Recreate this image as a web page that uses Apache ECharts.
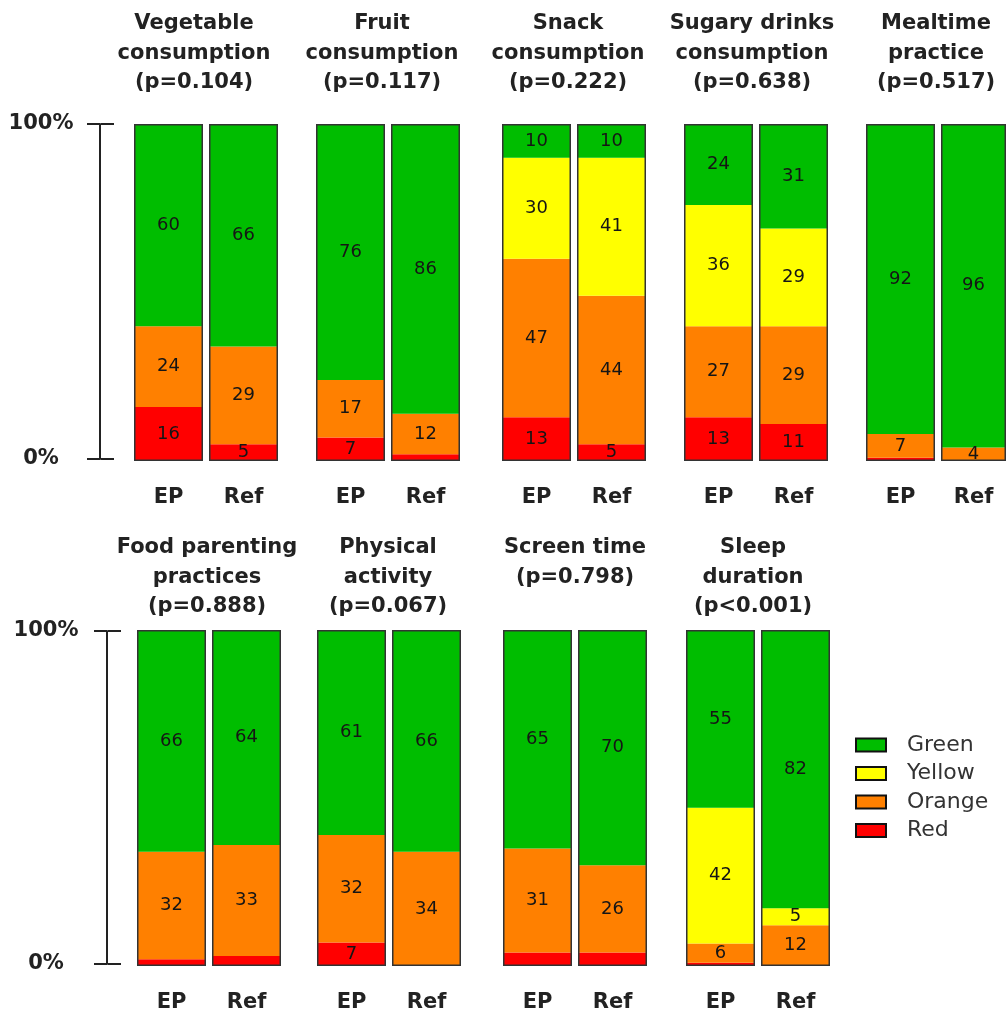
<!DOCTYPE html>
<html>
<head>
<meta charset="utf-8">
<script src="https://cdn.jsdelivr.net/npm/echarts@6/dist/echarts.min.js"></script>
<style>
  html, body { margin: 0; padding: 0; background: #ffffff; }
  #chart { width: 1006px; height: 1017px; }
</style>
</head>
<body>
<div id="chart"></div>
<script>
// Outcome panels (title lines, p-values)
const outcomes = [
  'Vegetable\nconsumption\n(p=0.104)',
  'Fruit\nconsumption\n(p=0.117)',
  'Snack\nconsumption\n(p=0.222)',
  'Sugary drinks\nconsumption\n(p=0.638)',
  'Mealtime\npractice\n(p=0.517)',
  'Food parenting\npractices\n(p=0.888)',
  'Physical\nactivity\n(p=0.067)',
  'Screen time\n(p=0.798)',
  'Sleep\nduration\n(p<0.001)'
];
const groups = ['EP', 'Ref'];
const levels = ['Green', 'Yellow', 'Orange', 'Red'];

// Percent of children per colour category, [EP, Ref] for each outcome
const green  = [[60, 66], [76, 86], [10, 10], [24, 31], [92, 96], [66, 64], [61, 66], [65, 70], [55, 82]];
const yellow = [[0, 0],   [0, 0],   [30, 41], [36, 29], [0, 0],   [0, 0],   [0, 0],   [0, 0],   [42, 5]];
const orange = [[24, 29], [17, 12], [47, 44], [27, 29], [7, 4],   [32, 33], [32, 34], [31, 26], [6, 12]];
const red    = [[16, 5],  [7, 2],   [13, 5],  [13, 11], [1, 0],   [2, 3],   [7, 0],   [4, 4],   [1, 0]];
// Whether the red segment carries a printed value
const redLabelled = [[true, true], [true, false], [true, true], [true, true], [false, false],
                     [false, false], [true, false], [false, false], [false, false]];
const scaleTicks = [0, 100];

const colours = { Green: '#00bd00', Yellow: '#ffff00', Orange: '#ff8000', Red: '#ff0000' };
const valuesOf = { Green: green, Yellow: yellow, Orange: orange, Red: red };

// Layout of the two rows of panels
const rows = [
  { top: 124, height: 337, panelLeft: [134, 316, 502, 684, 866], titleX: [194, 382, 568, 752, 936], titleTop: 9,
    axisX: 100, axisTop: 124, axisHeight: 335, labelMargin: 59 },
  { top: 630, height: 336, panelLeft: [137, 317, 503, 686], titleX: [207, 388, 575, 753], titleTop: 533,
    axisX: 107, axisTop: 631, axisHeight: 333, labelMargin: 61 }
];
const barW = 69, barStep = 75;

const FONT = 'DejaVu Sans';
const grid = [], xAxis = [], yAxis = [], series = [], title = [];

let panel = 0;
rows.forEach(function (row) {
  row.panelLeft.forEach(function (left, k) {
    const p = panel;
    title.push({
      text: outcomes[p],
      left: row.titleX[k],
      top: row.titleTop,
      textAlign: 'center',
      padding: 0,
      textStyle: { fontFamily: FONT, fontWeight: 'bold', fontSize: 21, lineHeight: 29.5, color: '#222' }
    });
    groups.forEach(function (g, gi) {
      const gIdx = grid.length, xIdx = xAxis.length, yIdx = yAxis.length;
      const total = green[p][gi] + yellow[p][gi] + orange[p][gi] + red[p][gi];
      grid.push({ left: left + gi * barStep, top: row.top, width: barW, height: row.height });
      xAxis.push({
        type: 'category', gridIndex: gIdx, data: [g],
        axisLine: { show: false }, axisTick: { show: false },
        axisLabel: { margin: 26, fontFamily: FONT, fontWeight: 'bold', fontSize: 21, color: '#222' }
      });
      yAxis.push({ type: 'value', gridIndex: gIdx, min: 0, max: total, show: false });
      ['Red', 'Orange', 'Yellow', 'Green'].forEach(function (lev) {
        const v = valuesOf[lev][p][gi];
        const showLabel = v > 0 && (lev !== 'Red' || redLabelled[p][gi]);
        series.push({
          name: lev, type: 'bar', xAxisIndex: xIdx, yAxisIndex: yIdx,
          stack: 'bar' + gIdx, barWidth: '100%', barGap: '-100%',
          data: [v],
          itemStyle: { color: colours[lev] },
          label: { show: showLabel, position: 'inside', formatter: '{c}',
                   fontFamily: FONT, fontSize: 18, color: '#151515' }
        });
      });
      // outline around the whole stacked bar
      series.push({
        name: 'outline', type: 'bar', xAxisIndex: xIdx, yAxisIndex: yIdx,
        barWidth: '100%', barGap: '-100%', z: 5, silent: true,
        data: [total],
        itemStyle: { color: 'rgba(0,0,0,0)', borderColor: '#333', borderWidth: 1.5 },
        label: { show: false }
      });
    });
    panel++;
  });

  // 0%-100% scale bar at the left of the row
  const sIdx = grid.length;
  grid.push({ left: row.axisX, top: row.axisTop, width: 1, height: row.axisHeight });
  xAxis.push({ type: 'value', gridIndex: sIdx, show: false });
  const common = {
    type: 'value', gridIndex: sIdx, min: scaleTicks[0], max: scaleTicks[1], interval: 100,
    splitLine: { show: false },
    axisTick: { show: true, length: 13, lineStyle: { color: '#222', width: 2 } }
  };
  yAxis.push(Object.assign({}, common, {
    position: 'left',
    axisLine: { show: true, lineStyle: { color: '#222', width: 2 } },
    axisLabel: { formatter: function (v) { return v + '%'; }, align: 'center', margin: row.labelMargin,
                 fontFamily: FONT, fontWeight: 'bold', fontSize: 21, color: '#222' }
  }));
  yAxis.push(Object.assign({}, common, {
    position: 'right',
    axisLine: { show: false },
    axisLabel: { show: false }
  }));
});

const chart = echarts.init(document.getElementById('chart'), null, { renderer: 'canvas' });
chart.setOption({
  animation: false,
  backgroundColor: '#ffffff',
  title: title,
  legend: {
    data: levels,
    orient: 'vertical',
    left: 855, top: 733,
    padding: 0,
    itemWidth: 30, itemHeight: 13, itemGap: 4.5,
    icon: 'rect',
    itemStyle: { borderColor: '#111', borderWidth: 2 },
    textStyle: { fontFamily: FONT, fontSize: 22, lineHeight: 24, color: '#333', padding: [0, 0, 0, 16] }
  },
  grid: grid,
  xAxis: xAxis,
  yAxis: yAxis,
  series: series
});
</script>
</body>
</html>
